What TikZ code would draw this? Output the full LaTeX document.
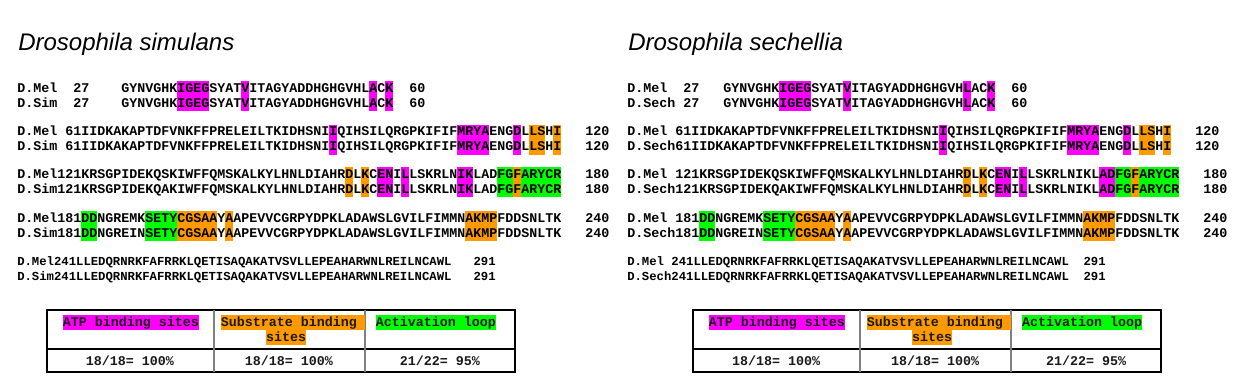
\documentclass[tikz,border=0pt]{standalone}
\usepackage{fontspec}
\setmainfont{Liberation Sans}
\setmonofont{Liberation Mono}
\usepackage{xcolor}
\usepackage{tikz}
\usetikzlibrary{positioning}
\definecolor{atp}{HTML}{FF00FF}
\definecolor{subst}{HTML}{FF9900}
\definecolor{actloop}{HTML}{00FF00}
\definecolor{ink}{HTML}{1A1A1A}
\definecolor{rulegray}{HTML}{808080}
\newcommand\gapch{\hphantom{0}}
\newcommand\hlstrut{\rule[-3pt]{0pt}{11.25pt}}
\newcommand\hlbox[2]{{\setlength\fboxsep{0pt}\colorbox{#1}{\hlstrut#2}}}
\newcommand\hA[1]{\hlbox{atp}{#1}}
\newcommand\hS[1]{\hlbox{subst}{#1}}
\newcommand\hL[1]{\hlbox{actloop}{#1}}

\begin{document}
\begin{tikzpicture}[
  x=0.75pt, y=-0.75pt,
  seq/.style={anchor=base west, inner sep=0pt,
              font=\ttfamily\bfseries\fontsize{10pt}{11.25pt}\selectfont},
  seqsmall/.style={seq, font=\ttfamily\bfseries\fontsize{9.2pt}{11pt}\selectfont},
  title/.style={anchor=base west, inner sep=0pt,
                font=\itshape\fontsize{18pt}{20pt}\selectfont},
  cell/.style={anchor=base, inner sep=0pt, text=ink,
               font=\ttfamily\bfseries\fontsize{10pt}{12pt}\selectfont},
  frame/.style={draw=black, line width=1pt},
  colsep/.style={draw=rulegray, line width=1.3pt}
]
\fill[white] (0,0) rectangle (1249,390);
\useasboundingbox (0,0) rectangle (1249,390);

% ---- left panel: simulans
\node[title] (tsim) at (18,50) {Drosophila simulans};

\node[seq] (lmel1) at (17,92)
  {D.Mel\gapch\gapch27\gapch\gapch\gapch\gapch GYNVGHK\hA{IGEG}SYAT\hA{V}ITAGYADDHGHGVHL\hA{A}C\hA{K}\gapch\gapch60};
\node[seq] (lsim1) at (17,107)
  {D.Sim\gapch\gapch27\gapch\gapch\gapch\gapch GYNVGHK\hA{IGEG}SYAT\hA{V}ITAGYADDHGHGVHL\hA{A}C\hA{K}\gapch\gapch60};

\node[seq] (lmel2) at (17,135.5)
  {D.Mel\gapch 61IIDKAKAPTDFVNKFFPRELEILTKIDHSNI\hA{I}QIHSILQRGPKIFIF\hA{MRYA}ENG\hA{D}L\hS{LS}H\hS{I}\gapch\gapch\gapch120};
\node[seq] (lsim2) at (17,150.5)
  {D.Sim\gapch 61IIDKAKAPTDFVNKFFPRELEILTKIDHSNI\hA{I}QIHSILQRGPKIFIF\hA{MRYA}ENG\hA{D}L\hS{LS}H\hS{I}\gapch\gapch\gapch120};

\node[seq] (lmel3) at (17,178)
  {D.Mel121KRSGPIDEKQSKIWFFQMSKALKYLHNLDIAHR\hS{D}L\hS{K}C\hA{EN}I\hA{L}LSKRLN\hA{IK}LAD\hL{FG}\hS{F}\hL{ARYCR}\gapch\gapch\gapch180};
\node[seq] (lsim3) at (17,193)
  {D.Sim121KRSGPIDEKQAKIWFFQMSKALKYLHNLDIAHR\hS{D}L\hS{K}C\hA{EN}I\hA{L}LSKRLN\hA{IK}LAD\hL{FG}\hS{F}\hL{ARYCR}\gapch\gapch\gapch180};

\node[seq] (lmel4) at (17,222)
  {D.Mel181\hL{DD}NGREMK\hL{SETY}\hS{CGSAA}Y\hS{A}APEVVCGRPYDPKLADAWSLGVILFIMMN\hS{AKMP}FDDSNLTK\gapch\gapch\gapch240};
\node[seq] (lsim4) at (17,237)
  {D.Sim181\hL{DD}NGREIN\hL{SETY}\hS{CGSAA}Y\hS{A}APEVVCGRPYDPKLADAWSLGVILFIMMN\hS{AKMP}FDDSNLTK\gapch\gapch\gapch240};

\node[seqsmall] (lmel5) at (17,265.5)
  {D.Mel241LLEDQRNRKFAFRRKLQETISAQAKATVSVLLEPEAHARWNLREILNCAWL\gapch\gapch\gapch291};
\node[seqsmall] (lsim5) at (17,280.5)
  {D.Sim241LLEDQRNRKFAFRRKLQETISAQAKATVSVLLEPEAHARWNLREILNCAWL\gapch\gapch\gapch291};

% score table (simulans)
\draw[frame] (47,310) rectangle (515,372);
\draw[frame] (47,349) -- (515,349);
\draw[colsep] (214,310) -- (214,372);
\draw[colsep] (365,310) -- (365,372);
\node[cell] (latp) at (131,326) {\hA{ATP binding sites}};
\node[cell] (lsub) at (293,326) {\hS{Substrate binding\gapch}};
\node[cell] (lsub2) at (286,341) {\hS{sites}};
\node[cell] (lact) at (436,326) {\hL{Activation loop}};
\node[cell] (latpv) at (130,365) {18/18= 100\%};
\node[cell] (lsubv) at (289,365) {18/18= 100\%};
\node[cell] (lactv) at (440,365) {21/22= 95\%};

% ---- right panel: sechellia
\node[title] (tsech) at (628,50) {Drosophila sechellia};

\node[seq] (rmel1) at (627,92)
  {D.Mel\gapch\gapch27\gapch\gapch\gapch GYNVGHK\hA{IGEG}SYAT\hA{V}ITAGYADDHGHGVH\hA{L}AC\hA{K}\gapch\gapch60};
\node[seq] (rsech1) at (627,107)
  {D.Sech\gapch27\gapch\gapch\gapch GYNVGHK\hA{IGEG}SYAT\hA{V}ITAGYADDHGHGVH\hA{L}AC\hA{K}\gapch\gapch60};

\node[seq] (rmel2) at (627,135.5)
  {D.Mel\gapch 61IIDKAKAPTDFVNKFFPRELEILTKIDHSNI\hA{I}QIHSILQRGPKIFIF\hA{MRYA}ENG\hA{D}L\hS{LS}H\hS{I}\gapch\gapch\gapch120};
\node[seq] (rsech2) at (627,150.5)
  {D.Sech61IIDKAKAPTDFVNKFFPRELEILTKIDHSNI\hA{I}QIHSILQRGPKIFIF\hA{MRYA}ENG\hA{D}L\hS{LS}H\hS{I}\gapch\gapch\gapch120};

\node[seq] (rmel3) at (627,178)
  {D.Mel\gapch 121KRSGPIDEKQSKIWFFQMSKALKYLHNLDIAHR\hS{D}L\hS{K}C\hA{EN}I\hA{L}LSKRLNIKL\hA{AD}\hL{FG}\hS{F}\hL{ARYCR}\gapch\gapch\gapch180};
\node[seq] (rsech3) at (627,193)
  {D.Sech121KRSGPIDEKQAKIWFFQMSKALKYLHNLDIAHR\hS{D}L\hS{K}C\hA{EN}I\hA{L}LSKRLNIKL\hA{AD}\hL{FG}\hS{F}\hL{ARYCR}\gapch\gapch\gapch180};

\node[seq] (rmel4) at (627,222)
  {D.Mel\gapch 181\hL{DD}NGREMK\hL{SETY}\hS{CGSAA}Y\hS{A}APEVVCGRPYDPKLADAWSLGVILFIMMN\hS{AKMP}FDDSNLTK\gapch\gapch\gapch240};
\node[seq] (rsech4) at (627,237)
  {D.Sech181\hL{DD}NGREIN\hL{SETY}\hS{CGSAA}Y\hS{A}APEVVCGRPYDPKLADAWSLGVILFIMMN\hS{AKMP}FDDSNLTK\gapch\gapch\gapch240};

\node[seqsmall] (rmel5) at (627,265.5)
  {D.Mel\gapch 241LLEDQRNRKFAFRRKLQETISAQAKATVSVLLEPEAHARWNLREILNCAWL\gapch\gapch291};
\node[seqsmall] (rsech5) at (627,280.5)
  {D.Sech241LLEDQRNRKFAFRRKLQETISAQAKATVSVLLEPEAHARWNLREILNCAWL\gapch\gapch291};

% score table (sechellia)
\draw[frame] (693,310) rectangle (1161,372);
\draw[frame] (693,349) -- (1161,349);
\draw[colsep] (860,310) -- (860,372);
\draw[colsep] (1011,310) -- (1011,372);
\node[cell] (ratp) at (777,326) {\hA{ATP binding sites}};
\node[cell] (rsub) at (939,326) {\hS{Substrate binding\gapch}};
\node[cell] (rsub2) at (932,341) {\hS{sites}};
\node[cell] (ract) at (1082,326) {\hL{Activation loop}};
\node[cell] (ratpv) at (776,365) {18/18= 100\%};
\node[cell] (rsubv) at (935,365) {18/18= 100\%};
\node[cell] (ractv) at (1086,365) {21/22= 95\%};
\end{tikzpicture}
\end{document}
